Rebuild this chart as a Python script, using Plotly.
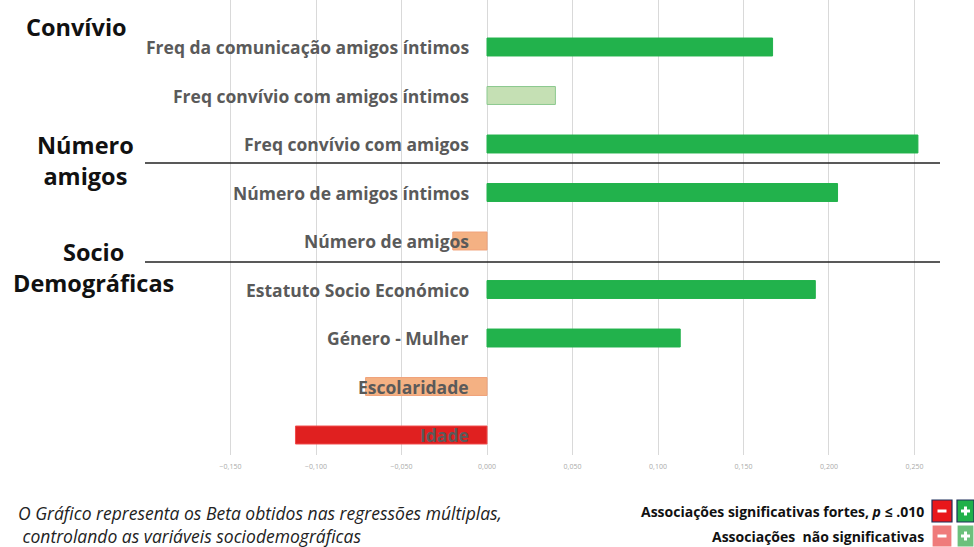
import plotly.graph_objects as go

# betas das regressoes multiplas
labels = ["Freq da comunicação amigos íntimos", "Freq convívio com amigos íntimos",
          "Freq convívio com amigos", "Número de amigos íntimos", "Número de amigos",
          "Estatuto Socio Económico", "Género - Mulher", "Escolaridade", "Idade"]
betas = [0.167, 0.040, 0.252, 0.205, -0.020, 0.192, 0.113, -0.071, -0.112]
# 2 = forte, 1 = nao significativa
signif = [2, 1, 2, 2, 1, 2, 2, 1, 2]
ticks = [-0.15, -0.10, -0.05, 0.0, 0.05, 0.10, 0.15, 0.20, 0.25]

def bar_color(b, s):
    if b >= 0:
        return "#22b24c" if s == 2 else "#c5e0b4"
    return "#e02020" if s == 2 else "#f4b183"

colors = [bar_color(b, s) for b, s in zip(betas, signif)]
lines = ["#8cc98f" if (b >= 0 and s == 1) else ("#f0a27a" if s == 1 else ("#f04a4a" if b < 0 else "#22b24c"))
         for b, s in zip(betas, signif)]

fig = go.Figure(go.Bar(
    x=betas, y=labels, orientation="h", width=0.37,
    marker=dict(color=colors, line=dict(color=lines, width=1)),
))

W = 974.0
H = 455.0
for lab in labels:
    fig.add_annotation(x=471 / W, xref="paper", y=lab, yref="y", text="<b>" + lab + "</b>",
                       showarrow=False, xanchor="right",
                       font=dict(family="Open Sans", size=17.5, color="#5a5a5a"))

# titulos das secoes
secs = [("Convívio", 76, 27), ("Número<br>amigos", 85, 160), ("Socio<br>Demográficas", 93, 267)]
for t, x, y in secs:
    fig.add_annotation(x=x / W, y=1 - y / H, xref="paper", yref="paper", text="<b>" + t + "</b>",
                       showarrow=False, xanchor="center", yanchor="middle",
                       font=dict(family="Open Sans", size=23.5, color="#111"))

for y in [163, 262]:
    fig.add_shape(type="line", xref="paper", yref="paper", x0=145 / W, x1=940 / W,
                  y0=1 - y / H, y1=1 - y / H, line=dict(color="#222", width=1.3))

# legenda
def py(y):
    return -(y - H) / H

# nota
fig.add_annotation(x=16 / W, y=py(524), xref="paper", yref="paper", xanchor="left", yanchor="middle",
                   align="left", showarrow=False,
                   text="<i>O Gráfico representa os Beta obtidos nas regressões múltiplas,<br>"
                        " controlando as variáveis sociodemográficas</i>",
                   font=dict(family="Open Sans", size=17.5, color="#222"))

leg = [("<b>Associações significativas fortes, <i>p</i> ≤ .010</b>", 511, "#e8161b", "#21b04a", "#1f2f5a"),
       ("<b>Associações  não significativas</b>", 536, "#ef7b7b", "#6cc07c", "#ffffff")]
for t, y, c1, c2, bc in leg:
    fig.add_annotation(x=926 / W, y=py(y), xref="paper", yref="paper", xanchor="right",
                       yanchor="middle", text=t, showarrow=False,
                       font=dict(family="Open Sans", size=14, color="#111"))
    for x0, x1, c, s in [(932, 952, c1, "-"), (957, 974, c2, "+")]:
        fig.add_shape(type="rect", xref="paper", yref="paper", x0=x0 / W, x1=x1 / W,
                      y0=py(y + 11), y1=py(y - 11), fillcolor=c, line=dict(color=bc, width=1.2))
        cx = (x0 + x1) / 2
        fig.add_shape(type="rect", xref="paper", yref="paper", x0=(cx - 4.5) / W, x1=(cx + 4.5) / W,
                      y0=py(y + 1.5), y1=py(y - 1.5), fillcolor="white", line=dict(width=0))
        if s == "+":
            fig.add_shape(type="rect", xref="paper", yref="paper", x0=(cx - 1.5) / W, x1=(cx + 1.5) / W,
                          y0=py(y + 4.5), y1=py(y - 4.5), fillcolor="white", line=dict(width=0))

fig.update_layout(
    width=974, height=547, margin=dict(l=0, r=0, t=0, b=92),
    plot_bgcolor="white", paper_bgcolor="white", showlegend=False, separators=", ",
    xaxis=dict(range=[-0.2848, 0.2848], tickvals=ticks, tickformat=".3f", showgrid=True,
               gridcolor="#d9d9d9", gridwidth=1.3, zeroline=False, ticklabelstandoff=6,
               tickfont=dict(size=7, color="#aaa"), ticks=""),
    yaxis=dict(range=[8.412, -0.969], showticklabels=False, showgrid=False, zeroline=False),
)

fig.write_html("out.html", config={"displayModeBar": False},
               post_script="document.body.style.margin='0';document.body.style.overflow='hidden';")
